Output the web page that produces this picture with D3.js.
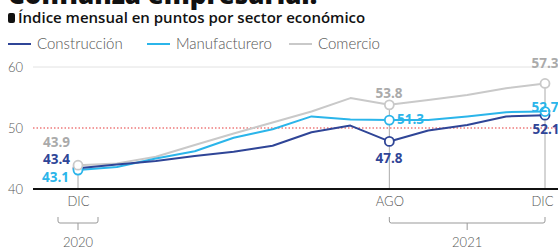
<!DOCTYPE html>
<html>
<head>
<meta charset="utf-8">
<script src="https://cdn.jsdelivr.net/npm/d3@7"></script>
<style>
  body { margin: 0; background: #fff; }
  svg { display: block; }
  .light { font-family: Lato, "Open Sans", sans-serif; font-weight: 300; fill: #555; }
  .val { font-family: "Open Sans", sans-serif; font-weight: 700; font-size: 13.5px; }
</style>
</head>
<body>
<svg id="chart"></svg>
<script>
// data
const months = ["DIC", "ENE", "FEB", "MAR", "ABR", "MAY", "JUN", "JUL", "AGO", "SEP", "OCT", "NOV", "DIC"];
const construccion = [43.4, 44.0, 44.6, 45.4, 46.1, 47.1, 49.3, 50.4, 47.8, 49.6, 50.5, 51.9, 52.1];
const manufacturero = [43.1, 43.6, 45.0, 46.2, 48.4, 49.8, 51.9, 51.4, 51.3, 51.3, 51.9, 52.6, 52.7];
const comercio = [43.9, 44.2, 45.3, 47.2, 49.1, 50.9, 52.7, 54.9, 53.8, 54.6, 55.4, 56.5, 57.3];
const yTicks = [40, 50, 60];
const xTicks = [0, 8, 12];
const years = [{ label: "2020", from: 0, to: 0 }, { label: "2021", from: 8, to: 12 }];

const width = 558, height = 251;
const svg = d3.select("#chart").attr("width", width).attr("height", height);

const x = d3.scaleLinear().domain([0, 12]).range([78, 545]);
const y = d3.scaleLinear().domain([40, 60]).range([189, 67]);

const series = [
  { name: "Construcción", values: construccion, color: "#2f4597" },
  { name: "Manufacturero", values: manufacturero, color: "#2bb5ea" },
  { name: "Comercio", values: comercio, color: "#c9c9c9" }
];

// title (cut at the top) and subtitle
svg.append("text").attr("x", 8).attr("y", 4)
  .style("font-family", "'Open Sans', sans-serif").style("font-weight", 800)
  .style("font-size", "26px").attr("fill", "#111")
  .text("Confianza empresarial.");
svg.append("rect").attr("x", 8).attr("y", 13).attr("width", 7).attr("height", 10).attr("rx", 2).attr("fill", "#111");
svg.append("text").attr("x", 18).attr("y", 23)
  .style("font-family", "'Open Sans', sans-serif").style("font-weight", 600)
  .style("font-size", "15px").attr("fill", "#111")
  .text("Índice mensual en puntos por sector económico");

// legend
const legX = [8, 147, 289];
series.forEach((s, i) => {
  svg.append("line").attr("x1", legX[i]).attr("x2", legX[i] + 23)
    .attr("y1", 44).attr("y2", 44).attr("stroke", s.color).attr("stroke-width", 2);
  svg.append("text").attr("class", "light").attr("x", legX[i] + 29).attr("y", 49)
    .style("font-size", "15px").text(s.name);
});

// y axis labels + gridline
svg.append("g").selectAll("text").data(yTicks).join("text")
  .attr("class", "light").attr("x", 8).attr("y", d => y(d) + 5)
  .style("font-size", "13px").text(d => d);

svg.append("line").attr("x1", 33).attr("x2", width).attr("y1", y(60)).attr("y2", y(60))
  .attr("stroke", "#e2e2e2").attr("stroke-width", 1);
svg.append("line").attr("x1", 33).attr("x2", width).attr("y1", y(50)).attr("y2", y(50))
  .attr("stroke", "#e5393b").attr("stroke-width", 1.2).attr("stroke-dasharray", "1.5,2");

// vertical guides at marked months
svg.append("g").selectAll("line").data(xTicks).join("line")
  .attr("x1", d => x(d)).attr("x2", d => x(d))
  .attr("y1", d => y(d3.max(series, s => s.values[d])))
  .attr("y2", y(40))
  .attr("stroke", "#aaa").attr("stroke-width", 1);

// x axis
const xAxis = d3.axisBottom(x).tickValues(xTicks).tickSize(0).tickPadding(8)
  .tickFormat(i => months[i]);
const gx = svg.append("g").attr("transform", `translate(0,${y(40)})`).call(xAxis);
gx.select(".domain").remove();
gx.selectAll("text").attr("class", "light").style("font-size", "13px");
gx.selectAll(".tick").filter(d => d === 12).select("text").attr("dx", -3);
svg.append("line").attr("x1", 33).attr("x2", width).attr("y1", y(40)).attr("y2", y(40))
  .attr("stroke", "#111").attr("stroke-width", 2);

// year brackets
years.forEach(yr => {
  const x0 = yr.from === yr.to ? x(yr.from) - 20 : x(yr.from);
  const x1 = yr.from === yr.to ? x(yr.to) + 20 : x(yr.to);
  const cx = (x0 + x1) / 2;
  svg.append("path")
    .attr("d", `M${x0},217 V221 Q${x0},223 ${x0 + 2},223 H${x1 - 2} Q${x1},223 ${x1},221 V217 M${cx},223 V230`)
    .attr("fill", "none").attr("stroke", "#999").attr("stroke-width", 1);
  svg.append("text").attr("class", "light").attr("x", cx).attr("y", 247)
    .attr("text-anchor", "middle").style("font-size", "13px").text(yr.label);
});

// lines
const line = d3.line().x((d, i) => x(i)).y(d => y(d));
svg.append("g").selectAll("path").data(series.slice().reverse()).join("path")
  .attr("d", d => line(d.values))
  .attr("fill", "none").attr("stroke", d => d.color).attr("stroke-width", 2)
  .attr("stroke-linejoin", "round");

// markers (gray drawn last so it sits on top at the first month)
series.forEach(s => {
  svg.append("g").selectAll("circle").data(xTicks).join("circle")
    .attr("cx", d => x(d)).attr("cy", d => y(s.values[d])).attr("r", 4.5)
    .attr("fill", "#fff").attr("stroke", s.color).attr("stroke-width", 1.8);
});

// value labels
const labels = [
  { s: 2, i: 0, x: 70, y: 147, anchor: "end" },
  { s: 0, i: 0, x: 70, y: 164, anchor: "end" },
  { s: 1, i: 0, x: 69, y: 182, anchor: "end" },
  { s: 2, i: 8, x: 389, y: 98, anchor: "middle" },
  { s: 1, i: 8, x: 397, y: 124, anchor: "start" },
  { s: 0, i: 8, x: 389, y: 163, anchor: "middle" },
  { s: 2, i: 12, x: 545, y: 68, anchor: "middle" },
  { s: 1, i: 12, x: 545, y: 112, anchor: "middle" },
  { s: 0, i: 12, x: 546, y: 134, anchor: "middle" }
];
svg.append("g").selectAll("text").data(labels).join("text")
  .attr("class", "val").attr("x", d => d.x).attr("y", d => d.y)
  .attr("text-anchor", d => d.anchor)
  .attr("fill", d => d.s === 2 ? "#aaa" : series[d.s].color)
  .text(d => series[d.s].values[d.i].toFixed(1));
</script>
</body>
</html>
